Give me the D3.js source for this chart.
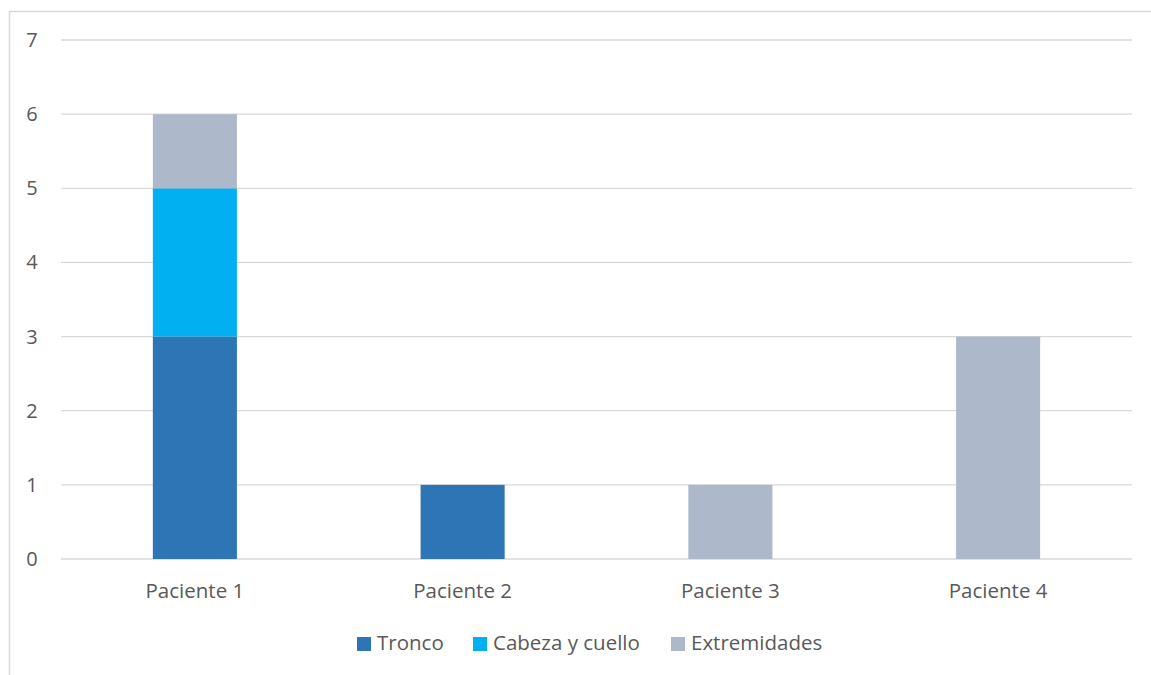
<!DOCTYPE html>
<html>
<head>
<meta charset="utf-8">
<script src="https://cdn.jsdelivr.net/npm/d3@7"></script>
<style>
  body { margin: 0; background: #fff; }
  text { font-family: "Open Sans", sans-serif; fill: #595959; }
</style>
</head>
<body>
<div id="chart"></div>
<script>
// data
const categories = ["Paciente 1", "Paciente 2", "Paciente 3", "Paciente 4"];
const seriesNames = ["Tronco", "Cabeza y cuello", "Extremidades"];
const tronco = [3, 1, 0, 0];
const cabeza = [2, 0, 0, 0];
const extremidades = [1, 0, 1, 3];
const yTicks = [0, 1, 2, 3, 4, 5, 6, 7];
const colors = ["#2E75B6", "#00B0F0", "#ADB9CA"];

const W = 1151, H = 675;
const margin = { top: 40, right: 19, bottom: 116, left: 61 },
    width = W - margin.left - margin.right,
    height = H - margin.top - margin.bottom;

const svg = d3.select("#chart")
    .append("svg")
    .attr("width", W)
    .attr("height", H);

// chart border
svg.append("rect")
    .attr("x", 9.5).attr("y", 11.5)
    .attr("width", W).attr("height", H)
    .attr("fill", "none")
    .attr("stroke", "#d9d9d9")
    .attr("stroke-width", 1.5);

const g = svg.append("g")
    .attr("transform", `translate(${margin.left},${margin.top})`);

const table = categories.map((c, i) => ({
    cat: c, Tronco: tronco[i], "Cabeza y cuello": cabeza[i], Extremidades: extremidades[i]
}));
const stacked = d3.stack().keys(seriesNames)(table);

const x = d3.scaleBand().domain(categories).range([0, width]);
const y = d3.scaleLinear().domain([0, 7]).range([height, 0]);
const barW = x.bandwidth() * 0.314;

// gridlines
g.selectAll(".grid")
    .data(yTicks)
    .join("line")
    .attr("x1", 0).attr("x2", width)
    .attr("y1", d => y(d)).attr("y2", d => y(d))
    .attr("stroke", "#d9d9d9")
    .attr("stroke-width", 1.3);

// y labels
g.selectAll(".ylab")
    .data(yTicks)
    .join("text")
    .attr("x", -29)
    .attr("y", d => y(d))
    .attr("dy", "0.35em")
    .attr("text-anchor", "middle")
    .style("font-size", "20px")
    .text(d => d);

// bars
g.selectAll(".series")
    .data(stacked)
    .join("g")
    .attr("fill", (d, i) => colors[i])
    .selectAll("rect")
    .data(d => d.filter(v => v[1] - v[0] > 0))
    .join("rect")
    .attr("x", d => x(d.data.cat) + (x.bandwidth() - barW) / 2)
    .attr("width", barW)
    .attr("y", d => y(d[1]))
    .attr("height", d => y(d[0]) - y(d[1]));

// x labels
g.selectAll(".xlab")
    .data(categories)
    .join("text")
    .attr("x", d => x(d) + x.bandwidth() / 2)
    .attr("y", height + 39)
    .attr("text-anchor", "middle")
    .style("font-size", "20.5px")
    .text(d => d);

// legend
const legendX = [357, 473, 671];
const leg = svg.selectAll(".leg")
    .data(seriesNames)
    .join("g")
    .attr("transform", (d, i) => `translate(${legendX[i]},637)`);
leg.append("rect")
    .attr("width", 14).attr("height", 14)
    .attr("fill", (d, i) => colors[i]);
leg.append("text")
    .attr("x", 20).attr("y", 13)
    .style("font-size", "20.5px")
    .text(d => d);
</script>
</body>
</html>
